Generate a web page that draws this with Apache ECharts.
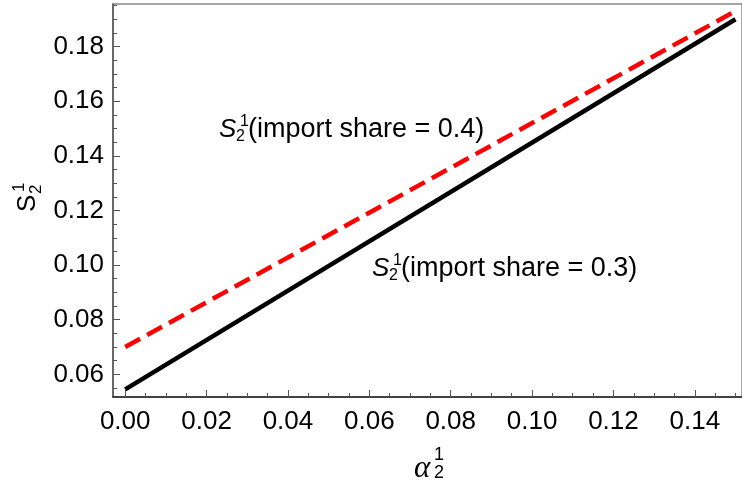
<!DOCTYPE html>
<html>
<head>
<meta charset="utf-8">
<script src="https://cdn.jsdelivr.net/npm/echarts@6/dist/echarts.min.js"></script>
<style>
  html, body { margin: 0; padding: 0; background: #fff; }
  #chart { width: 742px; height: 486px; }
</style>
</head>
<body>
<div id="chart"></div>
<script>
// data
const alpha = [0, 0.15];
const shareLow = [0.0545, 0.190];   // import share = 0.3
const shareHigh = [0.070, 0.193];   // import share = 0.4

const xTicks = [0, 0.02, 0.04, 0.06, 0.08, 0.10, 0.12, 0.14];
const xMinor = [0.005, 0.01, 0.015, 0.025, 0.03, 0.035, 0.045, 0.05, 0.055, 0.065, 0.07, 0.075,
  0.085, 0.09, 0.095, 0.105, 0.11, 0.115, 0.125, 0.13, 0.135, 0.145, 0.15];
const yTicks = [0.06, 0.08, 0.10, 0.12, 0.14, 0.16, 0.18];
const yMinor = [0.055, 0.065, 0.07, 0.075, 0.085, 0.09, 0.095, 0.105, 0.11, 0.115, 0.125, 0.13,
  0.135, 0.145, 0.15, 0.155, 0.165, 0.17, 0.175, 0.185, 0.19, 0.195];

const FONT = '"Liberation Sans", Arial, sans-serif';
const SERIF = '"Liberation Serif", "Times New Roman", serif';

const chart = echarts.init(document.getElementById('chart'));

function txt(x, y, s, size, style) {
  return {
    type: 'text', x: x, y: y,
    style: {
      text: s,
      font: (style || '') + ' ' + size + 'px ' + FONT,
      fill: '#000',
      textAlign: 'left',
      textVerticalAlign: 'middle'
    }
  };
}

// S_2^1 followed by a tail, S left edge at (x, y middle)
function label(x, y, tail) {
  return {
    type: 'group', x: x, y: y,
    children: [
      txt(0, 0, 'S', 26, 'italic'),
      txt(21, -8, '1', 16),
      txt(17, 7, '2', 16),
      txt(29, 0, tail, 27)
    ]
  };
}

function mkXAxis(ticks, len, showLine, showLabel) {
  return {
    type: 'value', min: -0.003, max: 0.1516, position: 'bottom',
    axisLine: { show: showLine, onZero: false, lineStyle: { color: '#222', width: 1.5 } },
    axisTick: { inside: true, length: len, customValues: ticks, lineStyle: { color: '#555', width: 1 } },
    axisLabel: {
      show: showLabel, customValues: ticks, margin: 12,
      fontSize: 26, fontFamily: FONT, color: '#000',
      formatter: v => v.toFixed(2)
    },
    splitLine: { show: false }
  };
}

function mkYAxis(ticks, len, showLine, showLabel) {
  return {
    type: 'value', min: 0.0517, max: 0.1956, position: 'left',
    axisLine: { show: showLine, onZero: false, lineStyle: { color: '#555', width: 1.5 } },
    axisTick: { inside: true, length: len, customValues: ticks, lineStyle: { color: '#555', width: 1 } },
    axisLabel: {
      show: showLabel, customValues: ticks, margin: 9,
      fontSize: 26, fontFamily: FONT, color: '#000',
      formatter: v => v.toFixed(2)
    },
    splitLine: { show: false }
  };
}

const option = {
  animation: false,
  backgroundColor: '#fff',
  grid: {
    left: 113, top: 4, right: -2, bottom: 89,
    show: true, borderColor: '#888', borderWidth: 1.5, backgroundColor: 'transparent'
  },
  xAxis: [
    mkXAxis(xTicks, 7, true, true),
    mkXAxis(xMinor, 4, false, false)
  ],
  yAxis: [
    mkYAxis(yTicks, 7, true, true),
    mkYAxis(yMinor, 4, false, false)
  ],
  series: [
    {
      name: 'import share = 0.3', type: 'line', showSymbol: false,
      data: alpha.map((a, i) => [a, shareLow[i]]),
      lineStyle: { color: '#000', width: 4.5 }
    },
    {
      name: 'import share = 0.4', type: 'line', showSymbol: false,
      data: alpha.map((a, i) => [a, shareHigh[i]]),
      lineStyle: { color: '#ff0000', width: 4.5, type: [17, 8] }
    }
  ],
  graphic: [
    label(219, 130, '(import share = 0.4)'),
    label(372, 269, '(import share = 0.3)'),
    // x axis title
    {
      type: 'group', x: 414, y: 469,
      children: [
        { type: 'text', x: 0, y: 0, style: { text: 'α', font: 'italic 31px ' + SERIF, fill: '#000', textVerticalAlign: 'middle' } },
        txt(20, -14, '1', 18),
        txt(20, 4, '2', 18)
      ]
    },
    // y axis title, rotated
    {
      type: 'group', x: 28, y: 212, rotation: Math.PI / 2,
      children: [
        txt(0, 0, 'S', 26),
        txt(20, -9, '1', 17),
        txt(18, 8, '2', 17)
      ]
    }
  ]
};

chart.setOption(option);
</script>
</body>
</html>
